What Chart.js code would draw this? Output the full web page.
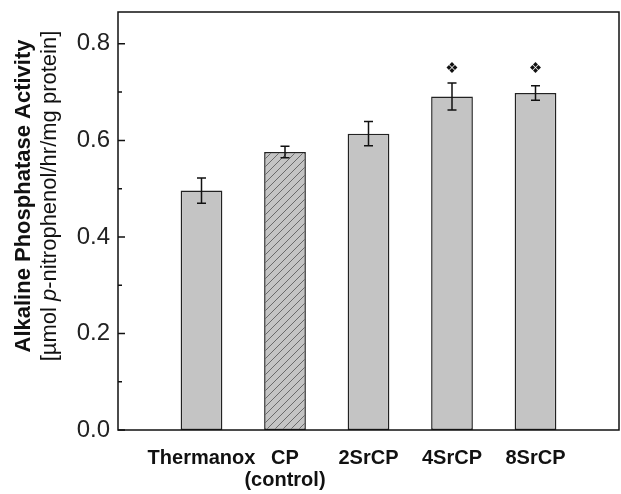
<!DOCTYPE html>
<html>
<head>
<meta charset="utf-8">
<script src="https://cdn.jsdelivr.net/npm/chart.js"></script>
<style>
    html, body { margin: 0; padding: 0; background: #fff; }
</style>
</head>
<body>
<canvas id="chart" width="621" height="494"></canvas>
<script>
// Datos
const categorias = ['Thermanox', ['CP', '(control)'], '2SrCP', '4SrCP', '8SrCP'];
const actividad = [0.496, 0.576, 0.614, 0.691, 0.698];
const errores = [0.026, 0.012, 0.025, 0.028, 0.015];
const significativo = [false, false, false, true, true];
const nivelMarca = 0.748;
const ticksY = [0, 0.2, 0.4, 0.6, 0.8];
const ticksMenoresY = [0.1, 0.3, 0.5, 0.7];
const maxY = 0.866;

// Patron rayado para el control
function crearRayado() {
    const c = document.createElement('canvas');
    c.width = 8;
    c.height = 8;
    const g = c.getContext('2d');
    g.fillStyle = '#c4c4c4';
    g.fillRect(0, 0, 8, 8);
    g.strokeStyle = '#6a6a6a';
    g.lineWidth = 1;
    g.beginPath();
    g.moveTo(0, 8); g.lineTo(8, 0);
    g.moveTo(-4, 4); g.lineTo(4, -4);
    g.moveTo(4, 12); g.lineTo(12, 4);
    g.stroke();
    return document.getElementById('chart').getContext('2d').createPattern(c, 'repeat');
}

const rayado = crearRayado();

// Relleno con una categoria vacia a cada lado
const etiquetas = ['', ...categorias, ''];
const datos = [null, ...actividad, null];
const rellenos = etiquetas.map((_, i) => i === 2 ? rayado : '#c4c4c4');

function sinPadding(s) {
    s.paddingTop = 0;
    s.paddingBottom = 0;
    s.paddingLeft = 0;
    s.paddingRight = 0;
}

const pluginDecoracion = {
    id: 'decoracion',
    afterDatasetsDraw(chart) {
        const ctx = chart.ctx;
        const y = chart.scales.y;
        const meta = chart.getDatasetMeta(0);
        ctx.save();
        ctx.strokeStyle = '#111';
        ctx.lineWidth = 1.5;
        actividad.forEach((v, i) => {
            const x = meta.data[i + 1].x;
            const yTop = y.getPixelForValue(v + errores[i]);
            const yBot = y.getPixelForValue(v - errores[i]);
            ctx.beginPath();
            ctx.moveTo(x, yTop); ctx.lineTo(x, yBot);
            ctx.moveTo(x - 4.5, yTop); ctx.lineTo(x + 4.5, yTop);
            ctx.moveTo(x - 4.5, yBot); ctx.lineTo(x + 4.5, yBot);
            ctx.stroke();
            if (significativo[i]) {
                ctx.fillStyle = '#111';
                ctx.font = '15px "DejaVu Sans"';
                ctx.textAlign = 'center';
                ctx.textBaseline = 'middle';
                ctx.fillText('\u2756', x, y.getPixelForValue(nivelMarca));
            }
        });
        ctx.restore();
    },
    afterDraw(chart) {
        const ctx = chart.ctx;
        const a = chart.chartArea;
        const y = chart.scales.y;
        ctx.save();
        // Marco
        ctx.strokeStyle = '#111';
        ctx.lineWidth = 1.5;
        ctx.strokeRect(a.left, a.top, a.right - a.left, a.bottom - a.top);
        // Ticks hacia dentro
        ctx.beginPath();
        ticksY.forEach(v => {
            const py = y.getPixelForValue(v);
            ctx.moveTo(a.left, py); ctx.lineTo(a.left + 7, py);
        });
        ticksMenoresY.forEach(v => {
            const py = y.getPixelForValue(v);
            ctx.moveTo(a.left, py); ctx.lineTo(a.left + 4, py);
        });
        ctx.stroke();

        // Titulo del eje Y
        ctx.fillStyle = '#111';
        ctx.textBaseline = 'middle';
        ctx.translate(0, 196);
        ctx.rotate(-Math.PI / 2);
        ctx.font = 'bold 22px "Liberation Sans"';
        ctx.textAlign = 'center';
        ctx.fillText('Alkaline Phosphatase Activity', 0, 24);

        const partes = [
            { t: '[\u00b5mol ', f: '22px "Liberation Sans"' },
            { t: 'p', f: 'italic 22px "Liberation Sans"' },
            { t: '-nitrophenol/hr/mg protein]', f: '22px "Liberation Sans"' }
        ];
        let total = 0;
        partes.forEach(p => { ctx.font = p.f; p.w = ctx.measureText(p.t).width; total += p.w; });
        let x = -total / 2;
        ctx.textAlign = 'left';
        partes.forEach(p => {
            ctx.font = p.f;
            ctx.fillText(p.t, x, 50);
            x += p.w;
        });
        ctx.restore();
    }
};

new Chart(document.getElementById('chart'), {
    type: 'bar',
    data: {
        labels: etiquetas,
        datasets: [{
            data: datos,
            backgroundColor: rellenos,
            borderColor: '#222',
            borderWidth: 1.5,
            borderSkipped: false,
            barPercentage: 0.5,
            categoryPercentage: 1
        }]
    },
    options: {
        responsive: false,
        animation: false,
        layout: { padding: { top: 12, right: 2, left: 0, bottom: 0 } },
        plugins: {
            legend: { display: false },
            tooltip: { enabled: false }
        },
        scales: {
            x: {
                offset: false,
                grid: { display: false },
                border: { display: false },
                ticks: {
                    autoSkip: false,
                    maxRotation: 0,
                    padding: 9,
                    color: '#111',
                    font: { family: 'Liberation Sans', size: 20, weight: 'bold', lineHeight: 1.1 }
                },
                afterFit: s => { s.height = 64; sinPadding(s); }
            },
            y: {
                min: 0,
                max: maxY,
                grid: { display: false, drawTicks: false },
                border: { display: false },
                afterBuildTicks: s => { s.ticks = ticksY.map(v => ({ value: v })); },
                ticks: {
                    padding: 8,
                    color: '#222',
                    font: { family: 'Liberation Sans', size: 24 },
                    callback: v => v.toFixed(1)
                },
                afterFit: s => { s.width = 118; sinPadding(s); }
            }
        }
    },
    plugins: [pluginDecoracion]
});
</script>
</body>
</html>
